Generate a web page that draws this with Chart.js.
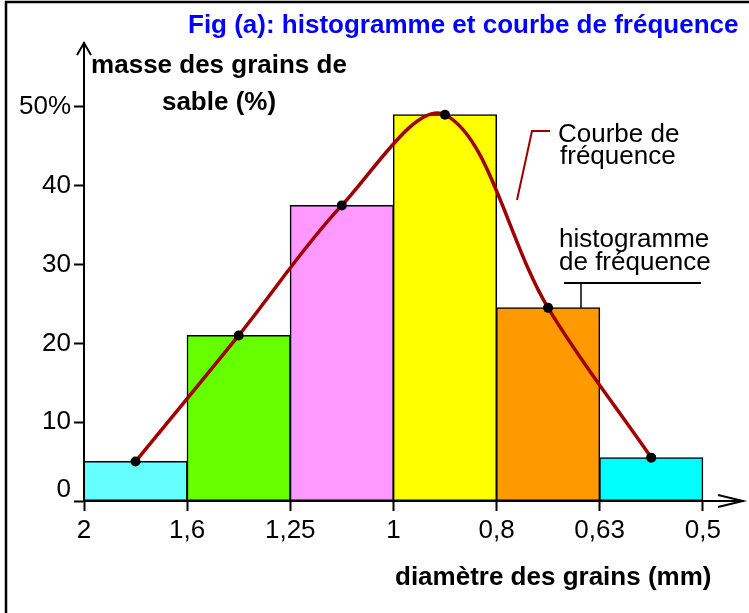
<!DOCTYPE html>
<html>
<head>
<meta charset="utf-8">
<script src="https://cdn.jsdelivr.net/npm/chart.js@4.4.0/dist/chart.umd.min.js"></script>
<style>
	html, body { margin: 0; padding: 0; background: #fff; }
	#box { width: 749px; height: 613px; }
</style>
</head>
<body>
<div id="box"><canvas id="histo" width="749" height="613"></canvas></div>
<script>
/* DATA */
var diameterTicks = ['2', '1,6', '1,25', '1', '0,8', '0,63', '0,5'];
var massPercent = [5, 21, 37.5, 49, 24.5, 5.5];
var barColors = ['#66ffff', '#66ff00', '#ff99ff', '#ffff00', '#ff9900', '#00ffff'];
var yTicks = [0, 10, 20, 30, 40, 50];

var FONT = "'Liberation Sans', Arial, sans-serif";

var barPoints = massPercent.map(function (v, i) { return { x: i + 0.5, y: v }; });

/* DECORATIONS: frame, arrows, titles, callouts */
var decor = {
	id: 'decor',
	afterDraw: function (chart) {
		var c = chart.ctx;
		var a = chart.chartArea;
		c.save();
		c.strokeStyle = '#000';
		c.lineWidth = 2.5;
		c.beginPath();
		c.moveTo(6, 613);
		c.lineTo(6, 2);
		c.lineTo(749, 2);
		c.stroke();

		// axis arrows
		c.lineWidth = 2;
		c.beginPath();
		c.moveTo(a.left - 7, a.top + 12);
		c.lineTo(a.left, a.top);
		c.lineTo(a.left + 7, a.top + 12);
		c.moveTo(a.right - 25, a.bottom - 6);
		c.lineTo(a.right, a.bottom);
		c.lineTo(a.right - 25, a.bottom + 6);
		c.stroke();

		c.fillStyle = '#0000ff';
		c.font = 'bold 26px ' + FONT;
		c.textAlign = 'left';
		c.textBaseline = 'alphabetic';
		c.fillText('Fig (a): histogramme et courbe de fréquence', 188, 33);

		c.fillStyle = '#000';
		c.textAlign = 'center';
		c.fillText('masse des grains de', 219, 73);
		c.fillText('sable (%)', 219, 110);
		c.textAlign = 'left';
		c.fillText('diamètre des grains (mm)', 395, 585);

		c.font = '26px ' + FONT;
		c.fillText('Courbe de', 558, 142);
		c.fillText('fréquence', 560, 164);
		c.fillText('histogramme', 559, 247);
		c.fillText('de fréquence', 559, 270);

		// callout lines
		c.strokeStyle = '#990000';
		c.lineWidth = 2;
		c.beginPath();
		c.moveTo(517, 200);
		c.lineTo(532, 131);
		c.lineTo(550, 131);
		c.stroke();

		c.strokeStyle = '#000';
		c.beginPath();
		c.moveTo(564, 283);
		c.lineTo(701, 283);
		c.stroke();
		c.lineWidth = 1.5;
		c.beginPath();
		c.moveTo(581, 283);
		c.lineTo(581, chart.scales.y.getPixelForValue(massPercent[4]));
		c.stroke();
		c.restore();
	}
};

var ctx = document.getElementById('histo').getContext('2d');
var histoChart = new Chart(ctx, {
	type: 'bar',
	data: {
		datasets: [{
			type: 'line',
			data: barPoints,
			borderColor: '#a00000',
			borderWidth: 3.5,
			tension: 0.35,
			pointRadius: 5,
			pointBackgroundColor: '#000',
			pointBorderWidth: 0,
			fill: false,
			order: 0
		}, {
			data: barPoints,
			backgroundColor: barColors,
			borderColor: '#000',
			borderWidth: 1.5,
			borderSkipped: false,
			inflateAmount: 0.5,
			barPercentage: 1,
			categoryPercentage: 1,
			order: 1
		}]
	},
	options: {
		responsive: false,
		animation: false,
		layout: { padding: { top: 43, right: 6, left: 0, bottom: 0 } },
		plugins: {
			legend: { display: false },
			tooltip: { enabled: false }
		},
		scales: {
			x: {
				type: 'linear',
				bounds: 'data',
				offset: false,
				min: 0,
				max: 6.39,
				afterBuildTicks: function (scale) {
					scale.ticks = diameterTicks.map(function (t, i) { return { value: i }; });
				},
				afterFit: function (scale) { scale.height = 112; },
				grid: { offset: false, drawOnChartArea: false, drawTicks: true, tickLength: 10, tickColor: '#000', tickWidth: 2 },
				border: { display: true, color: '#000', width: 2 },
				ticks: {
					autoSkip: false,
					maxRotation: 0,
					padding: 4,
					color: '#000',
					font: { family: FONT, size: 26 },
					callback: function (v) { return diameterTicks[v]; }
				}
			},
			y: {
				min: 0,
				max: 58.1,
				afterBuildTicks: function (scale) {
					scale.ticks = yTicks.map(function (v) { return { value: v }; });
				},
				afterFit: function (scale) { scale.width = 84; },
				grid: { drawOnChartArea: false, drawTicks: true, tickLength: 10, tickColor: '#000', tickWidth: 2 },
				border: { display: true, color: '#000', width: 2 },
				ticks: {
					padding: 3,
					color: '#000',
					font: { family: FONT, size: 26, lineHeight: 0.85 },
					callback: function (v) {
						if (v === 0) return ['0', ''];
						return v === 50 ? '50%' : String(v);
					}
				}
			}
		}
	},
	plugins: [decor]
});
</script>
</body>
</html>
